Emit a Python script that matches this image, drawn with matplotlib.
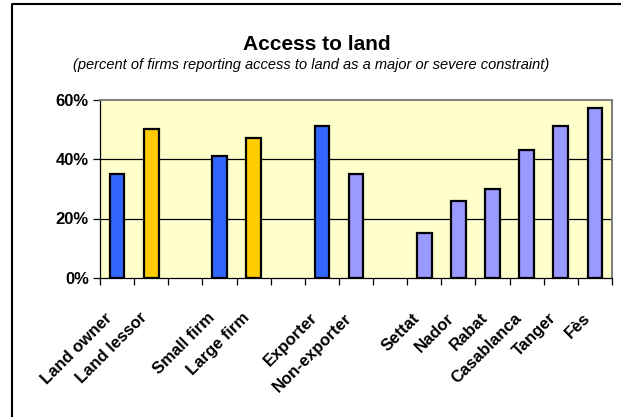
import numpy as np
import matplotlib as mpl
mpl.use("Agg")
import matplotlib.pyplot as plt
from matplotlib.lines import Line2D
from matplotlib.transforms import ScaledTranslation

# one slot per category, empty strings are the gaps between groups
CATEGORIES = ["Land owner", "Land lessor", "", "Small firm", "Large firm", "",
              "Exporter", "Non-exporter", "", "Settat", "Nador", "Rabat",
              "Casablanca", "Tanger", "Fès"]
VALUES = [35, 50, None, 41, 47, None, 51, 35, None, 15, 26, 30, 43, 51, 57]
SERIES = ["blue", "yellow", None, "blue", "yellow", None, "blue", "lav", None,
          "lav", "lav", "lav", "lav", "lav", "lav"]
YTICKS = [0, 20, 40, 60]

COLORS = {"blue": "#3366FF", "yellow": "#FFCC00", "lav": "#9999FF"}
PLOT_BG = "#FFFFCC"

plt.rcParams["font.family"] = ["Liberation Sans", "DejaVu Sans"]

W, H = 621, 417
fig = plt.figure(figsize=(W / 100, H / 100), dpi=100)
ax = fig.add_axes([100 / W, 1 - 278 / H, 512 / W, (278 - 99.5) / H])
ax.set_facecolor(PLOT_BG)

xs = np.arange(len(CATEGORIES))
for x, v, s in zip(xs, VALUES, SERIES):
    if v is None:
        continue
    ax.bar(x, v, width=0.43, color=COLORS[s], edgecolor="black",
           linewidth=1.6, zorder=3)

ax.set_xlim(-0.5, len(CATEGORIES) - 0.5)
ax.set_ylim(0, 60)
ax.set_yticks(YTICKS)
ax.set_yticklabels([f"{t}%" for t in YTICKS], fontsize=12, fontweight="bold")
for t in YTICKS[1:-1]:
    ax.axhline(t, color="black", lw=0.9, zorder=1)

# tick marks on slot boundaries, labels on slot centres
ax.set_xticks(np.arange(len(CATEGORIES) + 1) - 0.5)
ax.set_xticklabels([])
ax.set_xticks(xs, CATEGORIES, minor=True)
ax.tick_params(axis="x", which="major", direction="out", length=5,
               width=0.9, color="black")
ax.tick_params(axis="x", which="minor", length=0, pad=27)
ax.tick_params(axis="y", direction="out", length=5, width=0.9, pad=3)
off = ScaledTranslation(-5 / 72, 0, fig.dpi_scale_trans)
for lab in ax.get_xticklabels(minor=True):
    lab.set_rotation(45)
    lab.set_ha("right")
    lab.set_va("center")
    lab.set_rotation_mode("anchor")
    lab.set_fontsize(12)
    lab.set_fontweight("bold")
    lab.set_transform(lab.get_transform() + off)

for side in ("top", "right"):
    ax.spines[side].set_color("#808080")
    ax.spines[side].set_linewidth(1.5)
for side in ("left", "bottom"):
    ax.spines[side].set_color("black")
    ax.spines[side].set_linewidth(0.9)

fig.text(317 / W, 1 - 44 / H, "Access to land", ha="center", va="center",
         fontsize=15, fontweight="bold")
fig.text(311 / W, 1 - 65 / H,
         "(percent of firms reporting access to land as a major or severe constraint)",
         ha="center", va="center", fontsize=10.5, style="italic")

# chart frame, only the top and left edges are inside the crop
fig.add_artist(Line2D([12 / W, 12 / W, 1], [0, 1 - 4 / H, 1 - 4 / H],
                      transform=fig.transFigure, color="black", lw=1.5))

fig.savefig("out.png", dpi=100)
